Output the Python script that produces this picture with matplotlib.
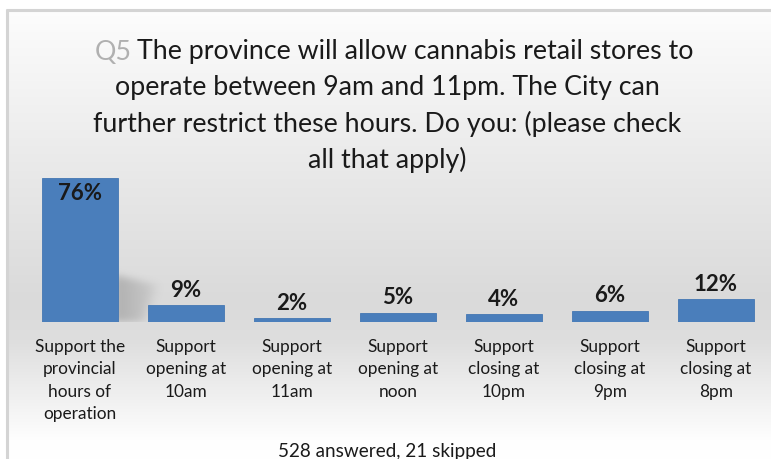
import numpy as np
import matplotlib
matplotlib.use("Agg")
import matplotlib.pyplot as plt
from matplotlib.path import Path

categories = [
    "Support the\nprovincial\nhours of\noperation",
    "Support\nopening at\n10am",
    "Support\nopening at\n11am",
    "Support\nopening at\nnoon",
    "Support\nclosing at\n10pm",
    "Support\nclosing at\n9pm",
    "Support\nclosing at\n8pm",
]
values = [76, 9, 2, 5, 4, 6, 12]
title_prefix = "Q5"
title_lines = [
    "The province will allow cannabis retail stores to",
    "operate between 9am and 11pm. The City can",
    "further restrict these hours. Do you: (please check",
    "all that apply)",
]
footer = "528 answered, 21 skipped"

FONT = ["Lato", "DejaVu Sans"]
TITLE_SIZE = 19.3
W, H = 771, 459
fig = plt.figure(figsize=(W / 100, H / 100), dpi=100)

# background panel with vertical grey gradient
bg = fig.add_axes([0, 0, 1, 1])
bg.set_xlim(0, W)
bg.set_ylim(H, 0)
bg.axis("off")
ys = np.arange(H)
stops_y = [0, 15, 170, 300, 340, 440, 459]
stops_v = [255, 252, 233, 218, 222, 254, 255]
col = np.interp(ys, stops_y, stops_v) / 255.0
grad = np.repeat(col[:, None], W, axis=1)
img = np.dstack([grad, grad, grad])
img[:10, :, :] = 1.0
img[:, :6, :] = 1.0
bg.imshow(img, extent=[0, W, H, 0], aspect="auto", interpolation="bilinear")
bg.plot([6, W], [9.5, 9.5], color="#d4d4d4", lw=2.2, solid_capstyle="butt")
bg.plot([6.5, 6.5], [9, H], color="#d4d4d4", lw=2.2, solid_capstyle="butt")

# title: grey question number followed by the question text
fig.canvas.draw()
r = fig.canvas.get_renderer()
first = bg.text(W / 2 + 30, 52, title_lines[0], ha="center", va="center",
                fontsize=TITLE_SIZE, family=FONT, color="#1a1a1a")
bb = first.get_window_extent(renderer=r)
bg.text(bb.x0 - 5, 52, title_prefix, ha="right", va="center",
        fontsize=TITLE_SIZE, family=FONT, color="#b0b0b0")
for i, line in enumerate(title_lines[1:], start=1):
    bg.text(W / 2 + 2, 52 + 36 * i, line, ha="center", va="center",
            fontsize=TITLE_SIZE, family=FONT, color="#1a1a1a")

bg.text(W / 2 + 2, 451, footer, ha="center", va="center",
        fontsize=13.6, family=FONT, color="#1a1a1a")

# bar chart
ax = fig.add_axes([27 / W, (H - 322) / H, 742 / W, 152 / H])
ax.patch.set_alpha(0)
for s in ax.spines.values():
    s.set_visible(False)
ax.set_yticks([])
x = np.arange(len(values))
bw = 0.71
ax.bar(x, values, width=bw, color="#4a7ebb", edgecolor="#4477b3",
       linewidth=0.6, zorder=3)

# soft cast shadow to the right of the tallest bar
i_max = int(np.argmax(values))
ex0, ex1, ey0, ey1 = i_max, i_max + 1.0, -3.0, 34.0
nx, ny = 160, 150
gx, gy = np.meshgrid(np.linspace(ex0, ex1, nx), np.linspace(ey1, ey0, ny))
poly = Path([(i_max + bw / 2 - 0.05, 0), (i_max + bw / 2 - 0.05, 25),
             (i_max + 0.72, 19.5), (i_max + 0.6, 0)])
mask = poly.contains_points(np.c_[gx.ravel(), gy.ravel()]).reshape(ny, nx).astype(float)
fade = np.clip(1 - (gx - (i_max + bw / 2)) / 0.4, 0, 1)
mask = mask * (0.3 + 0.7 * fade)
k = np.ones(15) / 15
for _ in range(3):
    mask = np.apply_along_axis(lambda v: np.convolve(v, k, mode="same"), 1, mask)
    mask = np.apply_along_axis(lambda v: np.convolve(v, k, mode="same"), 0, mask)
shadow = np.zeros((ny, nx, 4))
shadow[..., :3] = 0.45
shadow[..., 3] = mask * 0.4
ax.imshow(shadow, extent=[ex0, ex1, ey0, ey1], aspect="auto",
          interpolation="bilinear", zorder=2)
ax.set_xlim(-0.5, len(values) - 0.5)
ax.set_ylim(0, 80)

for xi, v in zip(x, values):
    if v > 50:
        ax.text(xi, v - 3.0, f"{v}%", ha="center", va="top", fontsize=16,
                fontweight="bold", family=FONT, color="#1a1a1a", zorder=4)
    else:
        ax.text(xi, v + 2.2, f"{v}%", ha="center", va="bottom", fontsize=16,
                fontweight="bold", family=FONT, color="#1a1a1a", zorder=4)

ax.set_xticks(x)
ax.set_xticklabels(categories, fontsize=12.4, family=FONT, color="#1a1a1a",
                   linespacing=1.5)
ax.tick_params(axis="x", length=0, pad=12)

fig.savefig("out.png", dpi=100)
